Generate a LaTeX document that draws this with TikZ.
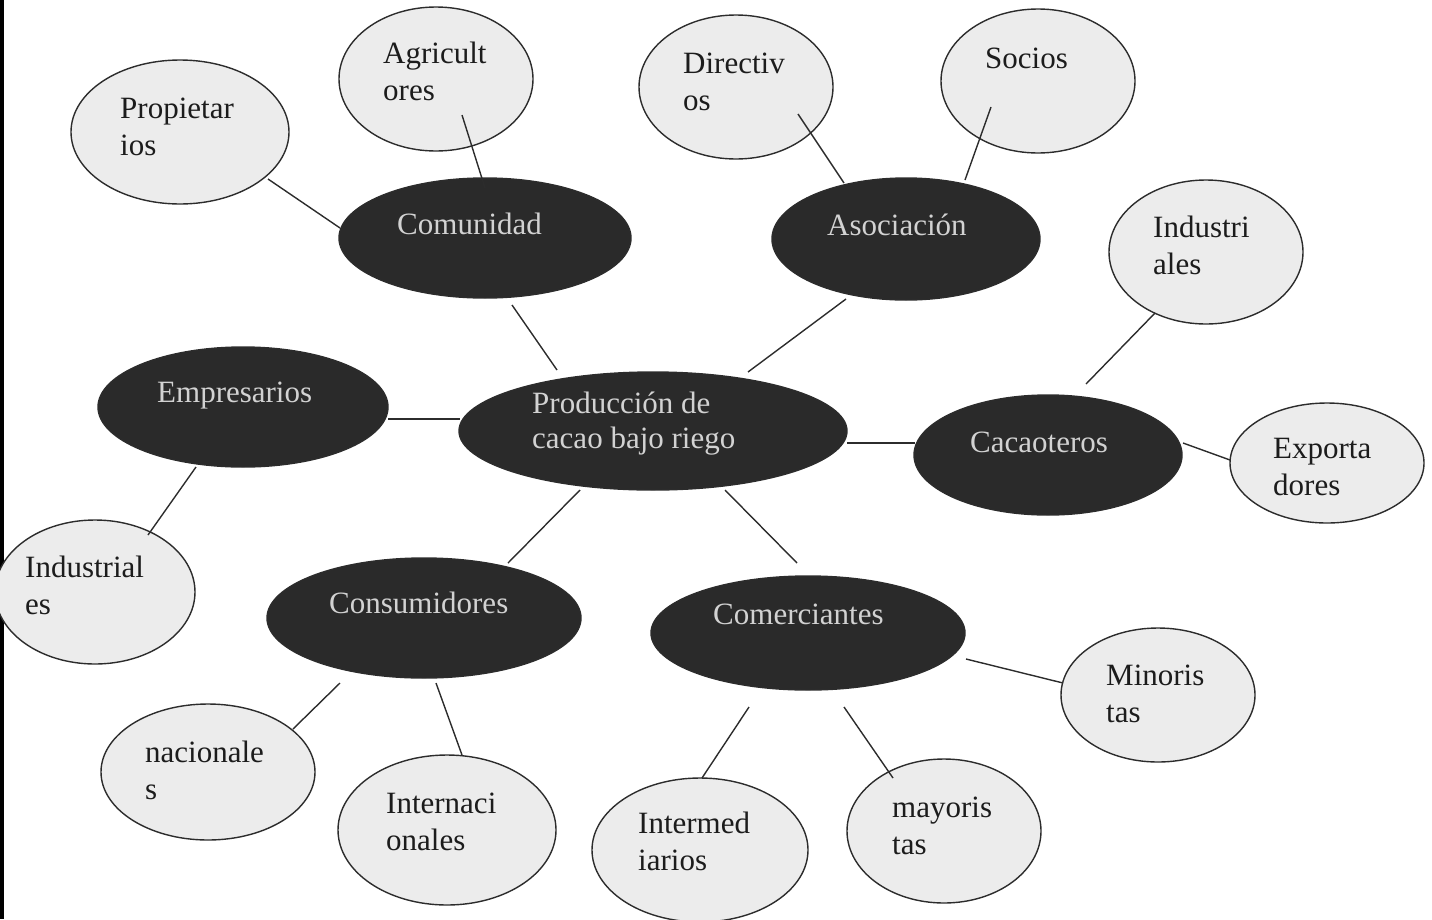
\documentclass[tikz,border=0pt]{standalone}
\usepackage{fontspec}
\setmainfont{Liberation Serif}
\usetikzlibrary{shapes.geometric,calc}
\definecolor{hubfill}{HTML}{2A2A2A}
\definecolor{leaffill}{HTML}{ECECEC}
\definecolor{rim}{HTML}{2C2C2C}
\definecolor{hubink}{HTML}{D2D2D2}
\definecolor{leafink}{HTML}{1C1C1C}
\begin{document}
\begin{tikzpicture}[x=1pt,y=-1pt,
  radii/.style 2 args={minimum width=2*#1pt,minimum height=2*#2pt},
  hub/.style={ellipse,draw=rim,line width=1.4pt,fill=hubfill,inner sep=0pt},
  leaf/.style={ellipse,draw=rim,line width=1.4pt,fill=leaffill,inner sep=0pt},
  hubtext/.style={anchor=base west,inner sep=0pt,text=hubink,
    font=\fontsize{31}{37}\selectfont},
  leaftext/.style={anchor=north west,inner sep=0pt,align=left,text=leafink,
    font=\fontsize{31}{37}\selectfont},
  link/.style={draw=rim,line width=1.4pt}]
\useasboundingbox (0,0) rectangle (1432,919);

% frame rule on the left edge
\draw[line width=3.5pt,black] (2,0) -- (2,919);

% central topic
\node[hub,radii={194}{59}] (cen) at (653,431) {};

% first-level groups
\node[hub,radii={146}{60}] (com)  at (485,238)  {};
\node[hub,radii={134}{61}] (aso)  at (906,239)  {};
\node[hub,radii={145}{60}] (emp)  at (243,407)  {};
\node[hub,radii={134}{60}] (cac)  at (1048,455) {};
\node[hub,radii={157}{60}] (cons) at (424,618)  {};
\node[hub,radii={157}{57}] (come) at (808,633)  {};

% second-level members
\node[leaf,radii={109}{72}] (prop)  at (180,132)  {};
\node[leaf,radii={97}{72}]  (agr)   at (436,79)   {};
\node[leaf,radii={97}{72}]  (dir)   at (736,87)   {};
\node[leaf,radii={97}{72}]  (soc)   at (1038,81)  {};
\node[leaf,radii={97}{72}]  (indR)  at (1206,252) {};
\node[leaf,radii={97}{60}]  (exp)   at (1327,463) {};
\node[leaf,radii={100}{72}] (indL)  at (95,592)   {};
\node[leaf,radii={107}{68}] (nac)   at (208,772)  {};
\node[leaf,radii={109}{75}] (inter) at (447,830)  {};
\node[leaf,radii={108}{72}] (intm)  at (700,850)  {};
\node[leaf,radii={97}{72}]  (may)   at (944,831)  {};
\node[leaf,radii={97}{67}]  (min)   at (1158,695) {};

% labels of the dark ellipses
\node[hubtext] (cen-t)  at (532,413) {Producción de};
\node[hubtext] (cen-t2) at (532,448) {cacao bajo riego};
\node[hubtext] (com-t)  at (397,234) {Comunidad};
\node[hubtext] (aso-t)  at (827,235) {Asociación};
\node[hubtext] (emp-t)  at (157,402) {Empresarios};
\node[hubtext] (cac-t)  at (970,452) {Cacaoteros};
\node[hubtext] (cons-t) at (329,613) {Consumidores};
\node[hubtext] (come-t) at (713,624) {Comerciantes};

% labels of the light ellipses (top = first baseline - 0.7*37pt)
\node[leaftext] (prop-t)  at (120,92)  {\strut Propietar\\ios};
\node[leaftext] (agr-t)   at (383,37)  {\strut Agricult\\ores};
\node[leaftext] (dir-t)   at (683,47)  {\strut Directiv\\os};
\node[leaftext] (soc-t)   at (985,42)  {\strut Socios};
\node[leaftext] (indR-t)  at (1153,211) {\strut Industri\\ales};
\node[leaftext] (exp-t)   at (1273,432) {\strut Exporta\\dores};
\node[leaftext] (indL-t)  at (25,551)  {\strut Industrial\\es};
\node[leaftext] (nac-t)   at (145,736) {\strut nacionale\\s};
\node[leaftext] (inter-t) at (386,787) {\strut Internaci\\onales};
\node[leaftext] (intm-t)  at (638,807) {\strut Intermed\\iarios};
\node[leaftext] (may-t)   at (892,791) {\strut mayoris\\tas};
\node[leaftext] (min-t)   at (1106,659) {\strut Minoris\\tas};

% connectors
\draw[link] ($(prop)+(88,47)$)   -- ($(com)+(-145,-10)$);
\draw[link] ($(agr)+(26,36)$)    -- ($(com)+(0,-50)$);
\draw[link] ($(com)+(27,67)$)    -- ($(cen)+(-96,-61)$);
\draw[link] ($(dir)+(62,27)$)    -- ($(aso)+(-62,-56)$);
\draw[link] ($(soc)+(-47,26)$)   -- ($(aso)+(59,-59)$);
\draw[link] ($(aso)+(-60,60)$)   -- ($(cen)+(95,-59)$);
\draw[link] ($(emp)+(145,12)$)   -- ($(cen)+(-193,-12)$);
\draw[link] ($(emp)+(-47,60)$)   -- ($(indL)+(53,-57)$);
\draw[link] ($(cen)+(194,12)$)   -- ($(cac)+(-133,-12)$);
\draw[link] ($(indR)+(-51,61)$)  -- ($(cac)+(38,-71)$);
\draw[link] ($(cac)+(135,-12)$)  -- ($(exp)+(-97,-3)$);
\draw[link] ($(cen)+(-73,59)$)   -- ($(cons)+(84,-55)$);
\draw[link] ($(cen)+(72,59)$)    -- ($(come)+(-11,-70)$);
\draw[link] ($(cons)+(-84,65)$)  -- ($(nac)+(85,-43)$);
\draw[link] ($(cons)+(12,65)$)   -- ($(inter)+(15,-75)$);
\draw[link] ($(come)+(158,26)$)  -- ($(min)+(-95,-12)$);
\draw[link] ($(come)+(-59,74)$)  -- ($(intm)+(2,-72)$);
\draw[link] ($(come)+(36,74)$)   -- ($(may)+(-51,-53)$);
\end{tikzpicture}
\end{document}
